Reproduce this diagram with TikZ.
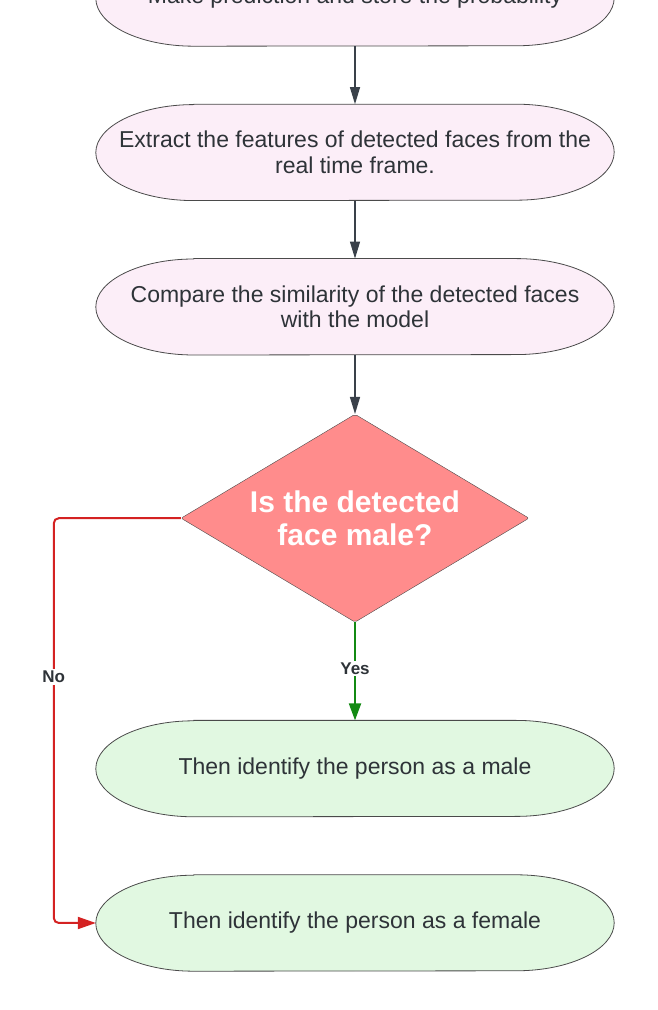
\documentclass[tikz,border=0pt]{standalone}
\usepackage{fontspec}
\setmainfont{Liberation Sans}
\usetikzlibrary{positioning,shapes.geometric,arrows.meta,backgrounds}

\definecolor{pinkfill}{HTML}{FCEEF8}
\definecolor{greenfill}{HTML}{E1F8E1}
\definecolor{decfill}{HTML}{FF8C8C}
\definecolor{edgegray}{HTML}{4A4A4A}
\definecolor{arrowgray}{HTML}{3A414A}
\definecolor{txtgray}{HTML}{2E3338}
\definecolor{nored}{HTML}{D42222}
\definecolor{yesgreen}{HTML}{138A13}

\begin{document}
\begin{tikzpicture}[
        %Environment config
        x=1pt, y=1pt,
        %Environment styles
        StageCfg/.style={
            rectangle,
            minimum width=518pt,
            minimum height=96pt,
            inner sep=0pt,
            align=center,
            text=txtgray,
            font=\fontsize{23}{25.5}\selectfont
        },
        DecCfg/.style={
            diamond,
            aspect=1.67,
            minimum width=348pt,
            minimum height=208pt,
            inner sep=0pt,
            align=center,
            draw=edgegray,
            fill=decfill,
            rounded corners=2pt,
            text=white,
            font=\fontsize{30}{33}\selectfont\bfseries
        },
        FlowArrow/.style={
            draw=arrowgray,
            line width=1.2pt,
            -{Triangle[length=17pt,width=10pt]}
        },
        YesArrow/.style={
            draw=yesgreen,
            line width=2pt,
            -{Triangle[length=17pt,width=12pt]}
        },
        NoArrow/.style={
            draw=nored,
            line width=2pt,
            rounded corners=5pt,
            -{Triangle[length=18pt,width=12pt]}
        },
        BranchLbl/.style={
            fill=white,
            inner sep=2pt,
            text=txtgray,
            font=\fontsize{17}{20}\selectfont\bfseries
        }
    ]
    \useasboundingbox (0,0) rectangle (658,1010);
    \clip (0,0) rectangle (658,1010);

    \node[StageCfg] (pred) at (355,1012) {Make prediction and store the probability};
    \node[StageCfg, below=58pt of pred] (feat)
        {Extract the features of detected faces from the\\ real time frame.};
    \node[StageCfg, below=58pt of feat] (comp)
        {Compare the similarity of the detected faces\\ with the model};
    \node[DecCfg, below=59pt of comp] (dec) {Is the detected\\ face male?};
    \node[StageCfg, below=98pt of dec] (male) {Then identify the person as a male};
    \node[StageCfg, below=58pt of male] (female) {Then identify the person as a female};

    % stadium outlines behind the stage texts
    \begin{scope}[on background layer]
        \foreach \n/\c in {pred/pinkfill, feat/pinkfill, comp/pinkfill,
                           male/greenfill, female/greenfill}{
            \filldraw[fill=\c, draw=edgegray, line width=0.8pt]
                ([xshift=98pt]\n.north west) -- ([xshift=-98pt]\n.north east)
                arc[start angle=90, end angle=-90, x radius=98pt, y radius=48pt]
                -- ([xshift=98pt]\n.south west)
                arc[start angle=270, end angle=90, x radius=98pt, y radius=48pt]
                -- cycle;
        }
    \end{scope}

    \draw[FlowArrow] (pred) -- (feat);
    \draw[FlowArrow] (feat) -- (comp);
    \draw[FlowArrow] (comp) -- (dec);

    \draw[YesArrow] (dec.south) -- (male.north)
        node[BranchLbl, pos=0.47] (yeslbl) {Yes};
    \draw[NoArrow] (dec.west) -- ++(-127pt,0) coordinate (nocorner)
        |- (female.west);
    \node[BranchLbl] (nolbl) at ([yshift=-159pt]nocorner) {No};
\end{tikzpicture}
\end{document}
